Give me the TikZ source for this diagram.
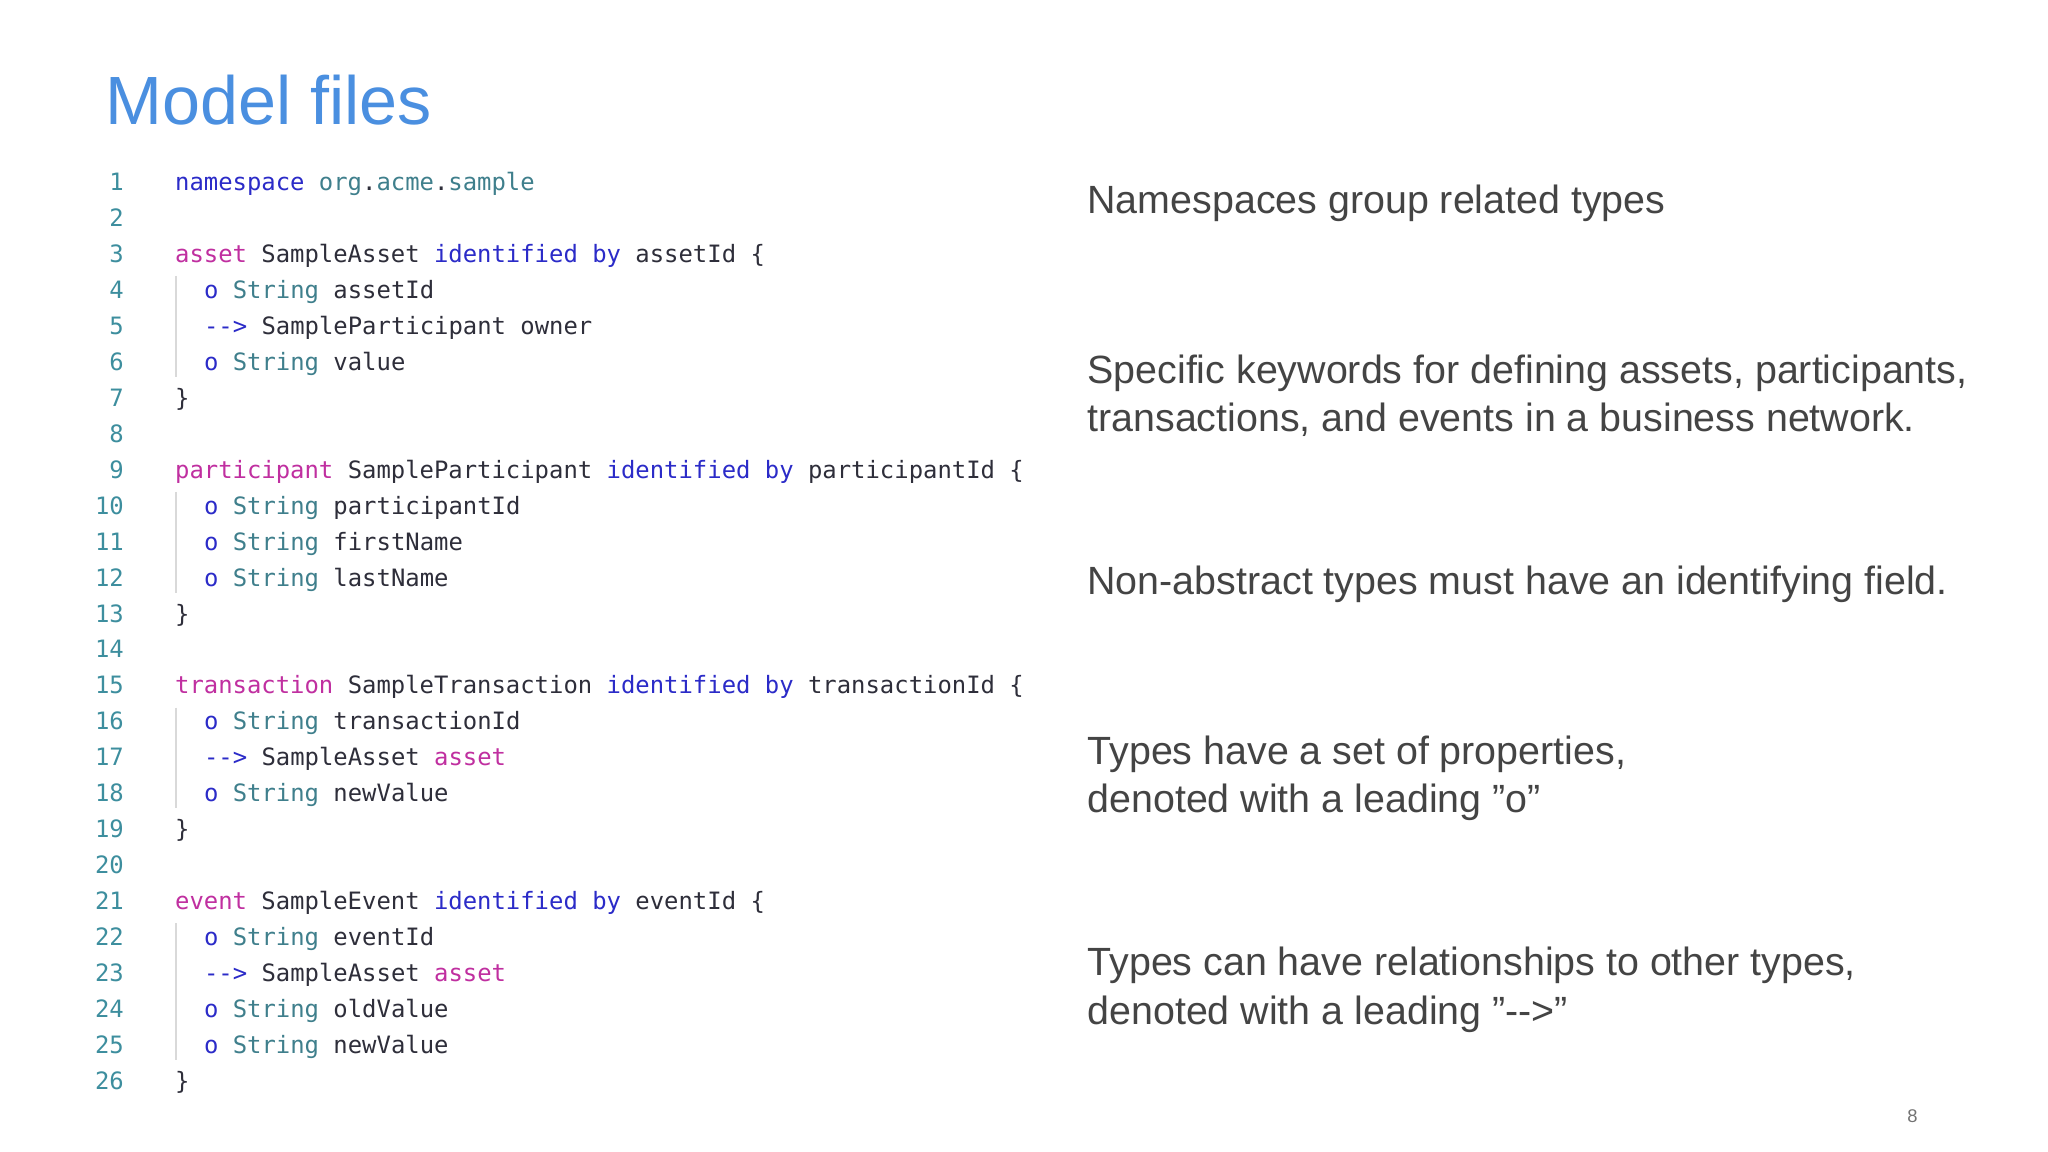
\documentclass[tikz,border=0pt]{standalone}
\usepackage{fontspec}
\setmainfont{Liberation Sans}
\setmonofont{DejaVu Sans Mono}
\usetikzlibrary{positioning}
\definecolor{titleblue}{HTML}{4A8FE0}
\definecolor{kwpink}{HTML}{C02FA0}
\definecolor{kwblue}{HTML}{2B2BC8}
\definecolor{typeteal}{HTML}{3F7F8C}
\definecolor{numteal}{HTML}{3D8E9E}
\definecolor{plaindark}{HTML}{2E2E3A}
\definecolor{notegray}{HTML}{444444}
\newcommand{\kp}[1]{\textcolor{kwpink}{#1}}
\newcommand{\kb}[1]{\textcolor{kwblue}{#1}}
\newcommand{\ty}[1]{\textcolor{typeteal}{#1}}
\tikzset{
  code/.style={anchor=base west, inner sep=0pt, font=\ttfamily\fontsize{9.1}{11}\selectfont, text=plaindark},
  lnum/.style={anchor=base west, inner sep=0pt, font=\ttfamily\fontsize{9.1}{11}\selectfont, text=numteal},
  note/.style={anchor=base west, inner sep=0pt, align=left, font=\fontsize{15}{18.5}\selectfont, text=notegray},
  guide/.style={draw=black!15, line width=0.6pt}
}
\begin{document}
\begin{tikzpicture}[x=0.5pt,y=-0.5pt]
  \useasboundingbox (0,0) rectangle (1560,877);
  \fill[white] (0,0) rectangle (1560,877);

  % Title
  \node[anchor=base west, inner sep=0pt, font=\fontsize{26}{30}\selectfont, text=titleblue] (title) at (80,95) {Model files};

  % Line numbers
  \foreach \n in {1,...,26} {
    \node[lnum] (num\n) at (72,{145+(\n-1)*27.4}) {\ifnum\n<10 \phantom{0}\fi\n};
  }

  % Guide bars of the blocks
  \foreach \a/\b in {4/6,10/12,16/18,22/25} {
    \draw[guide] (134,{128+(\a-1)*27.4}) -- (134,{150+(\b-1)*27.4});
  }

  % Code lines
  \node[code] (c1) at (133,145) {\kb{namespace} \ty{org}.\ty{acme}.\ty{sample}};
  \node[code] (c3) at (133,{145+2*27.4}) {\kp{asset} SampleAsset \kb{identified} \kb{by} assetId \{};
  \node[code] (c4) at (155,{145+3*27.4}) {\kb{o} \ty{String} assetId};
  \node[code] (c5) at (155,{145+4*27.4}) {\kb{-{}->} SampleParticipant owner};
  \node[code] (c6) at (155,{145+5*27.4}) {\kb{o} \ty{String} value};
  \node[code] (c7) at (133,{145+6*27.4}) {\}};
  \node[code] (c9) at (133,{145+8*27.4}) {\kp{participant} SampleParticipant \kb{identified} \kb{by} participantId \{};
  \node[code] (c10) at (155,{145+9*27.4}) {\kb{o} \ty{String} participantId};
  \node[code] (c11) at (155,{145+10*27.4}) {\kb{o} \ty{String} firstName};
  \node[code] (c12) at (155,{145+11*27.4}) {\kb{o} \ty{String} lastName};
  \node[code] (c13) at (133,{145+12*27.4}) {\}};
  \node[code] (c15) at (133,{145+14*27.4}) {\kp{transaction} SampleTransaction \kb{identified} \kb{by} transactionId \{};
  \node[code] (c16) at (155,{145+15*27.4}) {\kb{o} \ty{String} transactionId};
  \node[code] (c17) at (155,{145+16*27.4}) {\kb{-{}->} SampleAsset \kp{asset}};
  \node[code] (c18) at (155,{145+17*27.4}) {\kb{o} \ty{String} newValue};
  \node[code] (c19) at (133,{145+18*27.4}) {\}};
  \node[code] (c21) at (133,{145+20*27.4}) {\kp{event} SampleEvent \kb{identified} \kb{by} eventId \{};
  \node[code] (c22) at (155,{145+21*27.4}) {\kb{o} \ty{String} eventId};
  \node[code] (c23) at (155,{145+22*27.4}) {\kb{-{}->} SampleAsset \kp{asset}};
  \node[code] (c24) at (155,{145+23*27.4}) {\kb{o} \ty{String} oldValue};
  \node[code] (c25) at (155,{145+24*27.4}) {\kb{o} \ty{String} newValue};
  \node[code] (c26) at (133,{145+25*27.4}) {\}};

  % Notes on the right
  \node[note] (ns) at (828,163) {Namespaces group related types};
  \node[note] (kw) at (828,329) {Specific keywords for defining assets, participants,\\transactions, and events in a business network.};
  \node[note] (id) at (828,453) {Non-abstract types must have an identifying field.};
  \node[note] (props) at (828,619) {Types have a set of properties,\\denoted with a leading ”o”};
  \node[note] (rel) at (828,780) {Types can have relationships to other types,\\denoted with a leading ”-{}->”};

  % Page number
  \node[anchor=base east, inner sep=0pt, font=\fontsize{7}{8}\selectfont, text=black!55] (page) at (1461,855) {8};
\end{tikzpicture}
\end{document}
